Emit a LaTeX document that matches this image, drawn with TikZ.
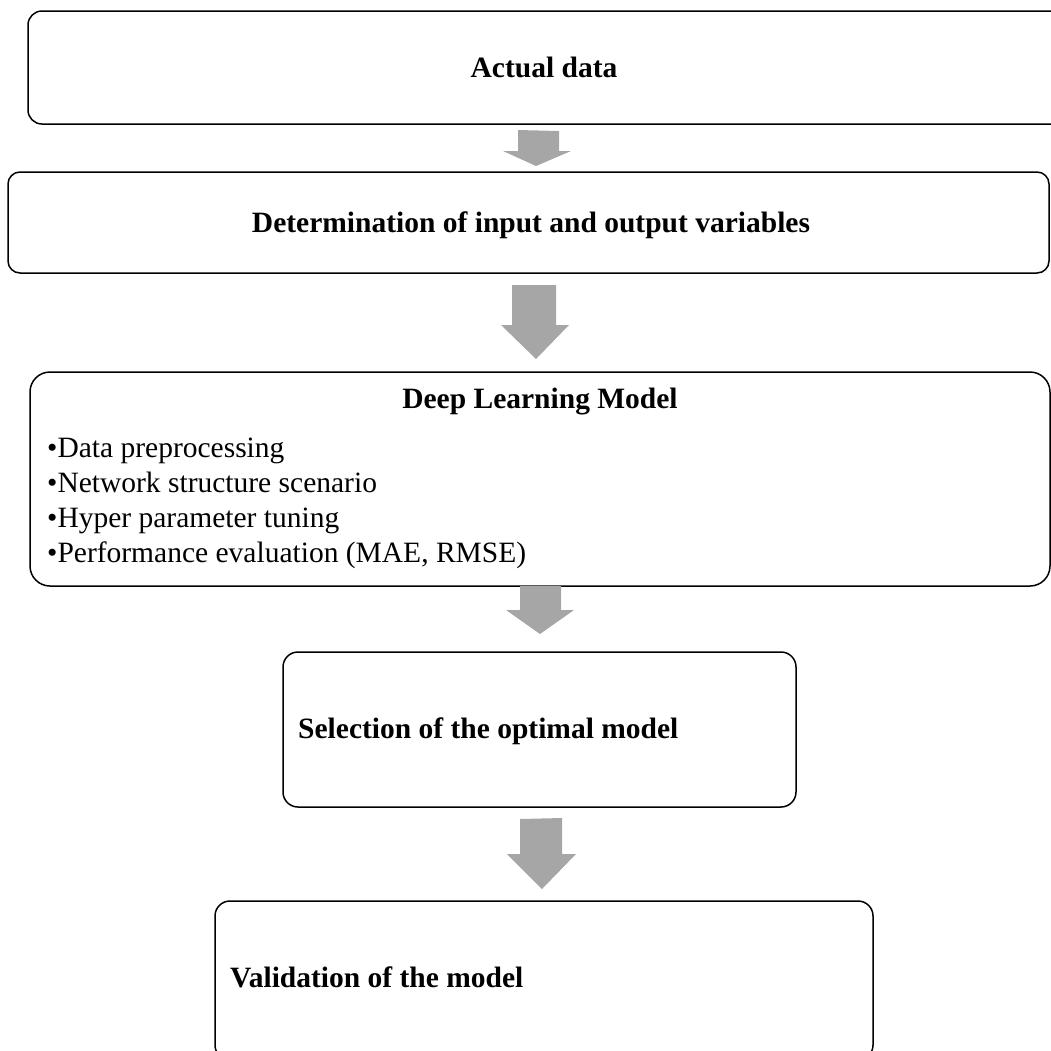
\documentclass[tikz,border=0pt]{standalone}
\usepackage{fontspec}
\setmainfont{Liberation Serif}
\begin{document}
\begin{tikzpicture}[x=1pt,y=-1pt,
  box/.style={draw=black,line width=1.5pt,fill=none,inner sep=0pt,outer sep=0pt},
  title/.style={font=\fontsize{29.5}{35}\selectfont\bfseries,inner sep=0pt,anchor=base},
  item/.style={font=\fontsize{29.5}{35}\selectfont,inner sep=0pt,anchor=base west},
  blockarrow/.style={fill=black!35,draw=none}]
\useasboundingbox (0,0) rectangle (1051,1050);
\clip (0,0) rectangle (1051,1050);

% process boxes
\node[box,rounded corners=14pt,minimum width=1047pt,minimum height=113pt] (b1) at (551.5,67.5) {};
\node[box,rounded corners=12pt,minimum width=1041pt,minimum height=101pt] (b2) at (528.5,222.5) {};
\node[box,rounded corners=20pt,minimum width=1020pt,minimum height=214pt] (b3) at (540,479) {};
\node[box,rounded corners=15pt,minimum width=513pt,minimum height=155pt] (b4) at (539.5,729.5) {};
\node[box,rounded corners=15pt,minimum width=658pt,minimum height=159pt] (b5) at (544,980.5) {};

% box texts
\node[title] (t1) at (544,77) {Actual data};
\node[title] (t2) at (531,232) {Determination of input and output variables};
\node[title] (t3) at (540,408) {Deep Learning Model};
\node[item] (i1) at (47,457) {•Data preprocessing};
\node[item] (i2) at (47,492) {•Network structure scenario};
\node[item] (i3) at (47,527) {•Hyper parameter tuning};
\node[item] (i4) at (47,562) {•Performance evaluation (MAE, RMSE)};
\node[title,anchor=base west] (t4) at (298,738) {Selection of the optimal model};
\node[title,anchor=base west] (t5) at (230,987) {Validation of the model};

% block arrows between the stages
\fill[blockarrow] (518,130) -- (559,131) -- (559,151) -- (571,151) -- (536,166)
  -- (503,151) -- (518,151) -- cycle;
\fill[blockarrow] (512,285) -- (556,285) -- (556,325) -- (569,325) -- (536,359)
  -- (501,325) -- (512,325) -- cycle;
\fill[blockarrow] (520,586) -- (561,586) -- (561,610) -- (574,610) -- (540,634)
  -- (506,610) -- (520,610) -- cycle;
\fill[blockarrow] (520,819) -- (562,818) -- (562,854) -- (576,854) -- (542,889)
  -- (507,854) -- (520,854) -- cycle;
\end{tikzpicture}
\end{document}
